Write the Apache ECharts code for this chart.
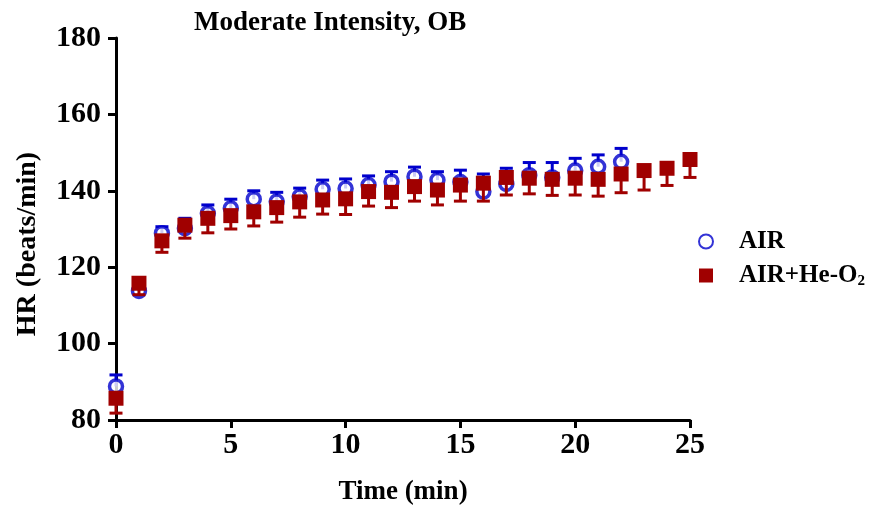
<!DOCTYPE html>
<html>
<head>
<meta charset="utf-8">
<script src="https://cdn.jsdelivr.net/npm/echarts@6/dist/echarts.min.js"></script>
<style>html,body{margin:0;padding:0;background:#fff}#c{width:878px;height:507px}</style>
</head>
<body>
<div id="c"></div>
<script>
var titleText = 'Moderate Intensity, OB';
var xName = 'Time (min)';
var yName = 'HR (beats/min)';
var airTime = [0,1,2,3,4,5,6,7,8,9,10,11,12,13,14,15,16,17,18,19,20,21,22];
var airMean = [88.8,113.8,128.9,130.2,134.1,135.4,137.8,137.2,138.5,140.4,140.6,141.5,142.4,143.7,142.8,142.3,139.8,141.8,144.1,143.5,145.3,146.3,147.6];
var airErr  = [3.0,1.5,1.7,2.6,2.2,2.4,2.2,2.4,2.2,2.4,2.5,2.4,2.6,2.5,2.2,3.1,4.6,4.1,3.3,3.9,3.2,3.1,3.5];
var heTime = [0,1,2,3,4,5,6,7,8,9,10,11,12,13,14,15,16,17,18,19,20,21,22,23,24,25];
var heMean = [85.7,115.8,126.9,131.0,132.8,133.5,134.5,135.6,137.1,137.6,137.9,139.8,139.6,141.1,140.2,141.5,142.0,143.5,143.3,143.0,143.3,143.0,144.4,145.3,145.9,148.2];
var heErr  = [3.9,3.0,3.0,3.4,3.8,3.5,3.7,3.8,4.0,3.7,4.1,3.8,4.0,3.8,3.9,4.2,4.7,4.6,4.1,4.2,4.4,4.4,4.9,5.1,4.5,4.7];

var BLUE = '#0000cc', RED = '#a00000', FONT = 'Liberation Serif';

function pairs(t, m){ return t.map(function(x,i){return [x, m[i]];}); }
function triples(t, m, e){ return t.map(function(x,i){return [x, m[i], e[i]];}); }

function errRender(dir, color){
  return function(params, api){
    var x = api.value(0), y = api.value(1), e = api.value(2);
    var p0 = api.coord([x, y]);
    var p1 = api.coord([x, y + dir*e]);
    var hw = 6.5;
    return {type:'group', children:[
      {type:'line', shape:{x1:p0[0], y1:p0[1], x2:p1[0], y2:p1[1]}, style:{stroke:color, lineWidth:3}},
      {type:'line', shape:{x1:p1[0]-hw, y1:p1[1], x2:p1[0]+hw, y2:p1[1]}, style:{stroke:color, lineWidth:3}}
    ]};
  };
}

var chart = echarts.init(document.getElementById('c'), null, {renderer:'canvas'});
chart.setOption({
  animation:false,
  backgroundColor:'#fff',
  title:{text:titleText, left:189, top:5, textStyle:{fontFamily:FONT, fontWeight:'bold', fontSize:27, color:'#000'}},
  grid:{left:116, right:188, top:38, bottom:87, outerBoundsMode:'none', containLabel:false},
  xAxis:{type:'value', min:0, max:25, interval:5,
    name:xName, nameLocation:'middle', nameGap:59,
    nameTextStyle:{fontFamily:FONT, fontWeight:'bold', fontSize:27, color:'#000'},
    axisLine:{onZero:false, lineStyle:{color:'#000', width:3}},
    axisTick:{length:8, lineStyle:{color:'#000', width:3}},
    axisLabel:{fontFamily:FONT, fontWeight:'bold', fontSize:30, color:'#000', margin:10},
    splitLine:{show:false}},
  yAxis:{type:'value', min:80, max:180, interval:20,
    name:yName, nameLocation:'middle', nameGap:74, nameRotate:90,
    nameTextStyle:{fontFamily:FONT, fontWeight:'bold', fontSize:28, color:'#000', padding:[0,30,0,0]},
    axisLine:{show:true, onZero:false, lineStyle:{color:'#000', width:3}},
    axisTick:{show:true, length:8, lineStyle:{color:'#000', width:3}},
    axisLabel:{fontFamily:FONT, fontWeight:'bold', fontSize:30, color:'#000', margin:15},
    splitLine:{show:false}},
  legend:{orient:'vertical', left:693, top:224, itemWidth:14, itemHeight:14, itemGap:9,
    data:['AIR','AIR+He-O2'],
    formatter:function(n){ return n==='AIR' ? '{sp|}{t|AIR}' : '{sp|}{t|AIR+He-O}{s|2}'; },
    textStyle:{fontFamily:FONT, fontWeight:'bold', fontSize:25, color:'#000',
      rich:{sp:{width:21}, t:{fontFamily:FONT, fontWeight:'bold', fontSize:25, color:'#000'},
        s:{fontFamily:FONT, fontWeight:'bold', fontSize:15, color:'#000', verticalAlign:'bottom', padding:[12,0,0,0]}}}},
  series:[
    {type:'custom', name:'airErr', renderItem:errRender(1, BLUE), data:triples(airTime, airMean, airErr), z:2, silent:true},
    {type:'scatter', name:'AIR', symbol:'circle', symbolSize:13, data:pairs(airTime, airMean),
      itemStyle:{color:'#ffffff', borderColor:BLUE, borderWidth:3.5}, z:3},
    {type:'custom', name:'heErr', renderItem:errRender(-1, RED), data:triples(heTime, heMean, heErr), z:4, silent:true},
    {type:'scatter', name:'AIR+He-O2', symbol:'rect', symbolSize:15, data:pairs(heTime, heMean),
      itemStyle:{color:RED, opacity:1}, z:5}
  ]
});
</script>
</body>
</html>
